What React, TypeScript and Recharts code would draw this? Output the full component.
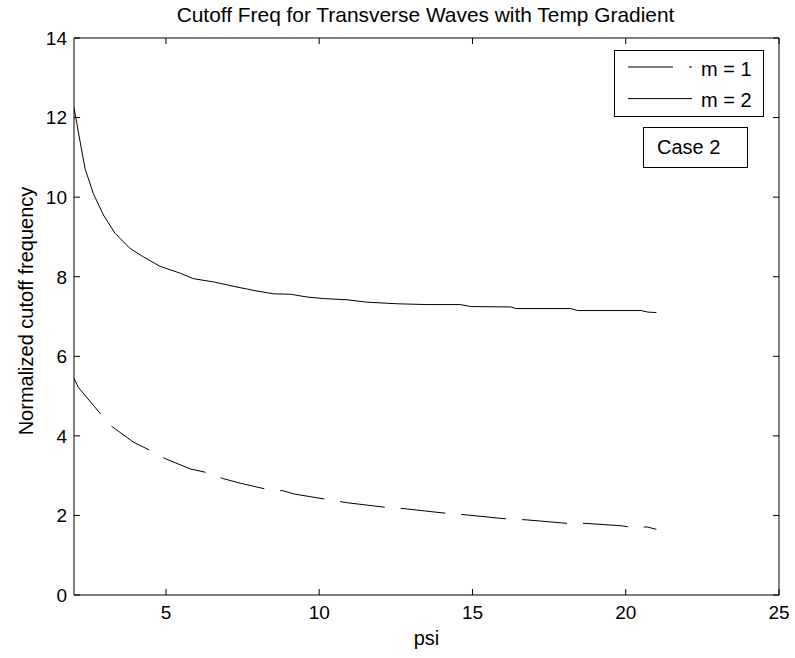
import React from 'react';
import { LineChart, Line, XAxis, YAxis, Legend, Label, ReferenceLine } from 'recharts';

const FONT = '"Liberation Sans", Arial, Helvetica, sans-serif';

const chartTitle = 'Cutoff Freq for Transverse Waves with Temp Gradient';
const xAxisTitle = 'psi';
const yAxisTitle = 'Normalized cutoff frequency';
const seriesNames = ['m = 1', 'm = 2'];
const annotationText = 'Case 2';

const xDomain = [2, 25];
const yDomain = [0, 14];
const xTicks = [5, 10, 15, 20, 25];
const yTicks = [0, 2, 4, 6, 8, 10, 12, 14];

// m = 1 (dashed)
const psiM1 = [2.0, 2.14, 2.87, 3.23, 3.94, 4.5, 4.97, 5.79, 6.37, 6.85, 7.42, 8.27, 8.82, 9.17, 9.72, 10.9, 12.2, 12.65, 14.07, 14.72, 16.14, 16.74, 18.1, 18.7, 19.85, 20.2, 20.7, 21.0];
const freqM1 = [5.45, 5.22, 4.55, 4.24, 3.84, 3.63, 3.43, 3.17, 3.07, 2.93, 2.81, 2.66, 2.62, 2.54, 2.47, 2.32, 2.2, 2.18, 2.06, 2.02, 1.91, 1.89, 1.8, 1.8, 1.74, 1.7, 1.71, 1.65];

// m = 2 (solid)
const psiM2 = [2.0, 2.2, 2.36, 2.63, 2.96, 3.34, 3.83, 4.26, 4.81, 5.46, 5.9, 6.55, 7.32, 7.97, 8.51, 9.06, 9.6, 10.15, 10.91, 11.56, 12.54, 13.52, 14.6, 14.94, 16.25, 16.41, 18.2, 18.43, 20.5, 20.72, 21.0];
const freqM2 = [12.25, 11.39, 10.72, 10.09, 9.55, 9.09, 8.71, 8.5, 8.26, 8.09, 7.95, 7.87, 7.74, 7.64, 7.57, 7.56, 7.49, 7.45, 7.42, 7.36, 7.32, 7.3, 7.3, 7.25, 7.24, 7.2, 7.2, 7.15, 7.15, 7.11, 7.1];

const dataM1 = psiM1.map((p, i) => ({ psi: p, f: freqM1[i] }));
const dataM2 = psiM2.map((p, i) => ({ psi: p, f: freqM2[i] }));

const W = 795;
const H = 658;
const M_TOP = 38;
const M_RIGHT = 16;
const Y_W = 74;
const X_H = 63;
const P_LEFT = Y_W;
const P_RIGHT = W - M_RIGHT;
const P_TOP = M_TOP;
const P_BOTTOM = H - X_H;
const TICK_FS = 19;
const LABEL_FS = 20;
const TICK_LEN = 6;
const DASH = '45 16';

const BottomTick = (props: any) => {
  const { x, payload } = props;
  return (
    <g>
      <line x1={x} x2={x} y1={P_BOTTOM} y2={P_BOTTOM - TICK_LEN} stroke="#000" strokeWidth={1} />
      <line x1={x} x2={x} y1={P_TOP} y2={P_TOP + TICK_LEN} stroke="#000" strokeWidth={1} />
      <text x={x} y={P_BOTTOM + 24} textAnchor="middle" fontSize={TICK_FS} fontFamily={FONT} fill="#000">
        {payload.value}
      </text>
    </g>
  );
};

const LeftTick = (props: any) => {
  const { y, payload } = props;
  return (
    <g>
      <line x1={P_LEFT} x2={P_LEFT + TICK_LEN} y1={y} y2={y} stroke="#000" strokeWidth={1} />
      <line x1={P_RIGHT} x2={P_RIGHT - TICK_LEN} y1={y} y2={y} stroke="#000" strokeWidth={1} />
      <text x={P_LEFT - 7} y={y + 6.8} textAnchor="end" fontSize={TICK_FS} fontFamily={FONT} fill="#000">
        {payload.value}
      </text>
    </g>
  );
};

const LegendBox = (props: any) => {
  const payload = props.payload || [];
  const items = seriesNames.map((name, i) => {
    const entry = payload.find((p: any) => p.value === name);
    return { name, dash: i === 0 ? DASH : undefined, color: entry ? entry.color : '#000' };
  });
  return (
    <div style={{ width: 150, height: 67, boxSizing: 'border-box', border: '1px solid #000', background: '#fff' }}>
      <svg width={148} height={65} style={{ display: 'block' }}>
        {items.map((it, i) => {
          const ly = 16 + i * 31.6;
          return (
            <g key={it.name}>
              <line x1={13} x2={77} y1={ly} y2={ly} stroke={it.color} strokeWidth={1} strokeDasharray={it.dash} />
              <text x={86} y={ly + 8.6} fontSize={LABEL_FS} fontFamily={FONT} fill="#000">
                {it.name}
              </text>
            </g>
          );
        })}
      </svg>
    </div>
  );
};

export default function App() {
  return (
    <div style={{ position: 'absolute', left: 0, top: 0, width: W, height: H, background: '#fff' }}>
      <LineChart width={W} height={H} margin={{ top: M_TOP, right: M_RIGHT, bottom: 0, left: 0 }}>
        <XAxis
          type="number"
          dataKey="psi"
          domain={xDomain}
          ticks={xTicks}
          allowDataOverflow
          height={X_H}
          axisLine={{ stroke: '#000', strokeWidth: 1 }}
          tickLine={false}
          tick={<BottomTick />}
          interval={0}
        >
          <Label
            content={() => (
              <g>
                <text x={(P_LEFT + P_RIGHT) / 2} y={645} textAnchor="middle" fontSize={LABEL_FS} fontFamily={FONT} fill="#000">
                  {xAxisTitle}
                </text>
                <text x={(P_LEFT + P_RIGHT) / 2 - 1} y={21.5} textAnchor="middle" fontSize={20.9} fontFamily={FONT} fill="#000">
                  {chartTitle}
                </text>
              </g>
            )}
          />
        </XAxis>
        <YAxis
          type="number"
          domain={yDomain}
          ticks={yTicks}
          allowDataOverflow
          width={Y_W}
          axisLine={{ stroke: '#000', strokeWidth: 1 }}
          tickLine={false}
          tick={<LeftTick />}
          interval={0}
        >
          <Label
            content={() => (
              <text
                x={33}
                y={311}
                transform="rotate(-90 33 311)"
                textAnchor="middle"
                fontSize={LABEL_FS}
                fontFamily={FONT}
                fill="#000"
              >
                {yAxisTitle}
              </text>
            )}
          />
        </YAxis>
        <ReferenceLine y={yDomain[1]} stroke="#000" strokeWidth={1} ifOverflow="visible" />
        <ReferenceLine x={xDomain[1]} stroke="#000" strokeWidth={1} ifOverflow="visible" />
        <Line
          data={dataM1}
          dataKey="f"
          name={seriesNames[0]}
          type="linear"
          stroke="#000"
          strokeWidth={1}
          strokeDasharray={DASH}
          dot={false}
          activeDot={false}
          isAnimationActive={false}
        />
        <Line
          data={dataM2}
          dataKey="f"
          name={seriesNames[1]}
          type="linear"
          stroke="#000"
          strokeWidth={1}
          dot={false}
          activeDot={false}
          isAnimationActive={false}
        />
        <Legend
          layout="horizontal"
          verticalAlign="middle"
          align="center"
          content={<LegendBox />}
          wrapperStyle={{ position: 'absolute', left: 614, top: 50, width: 150, height: 67, margin: 0, padding: 0 }}
        />
      </LineChart>
      <div
        style={{
          position: 'absolute',
          left: 643,
          top: 127,
          width: 105,
          height: 41,
          boxSizing: 'border-box',
          border: '1px solid #000',
          background: '#fff',
          fontFamily: FONT,
          fontSize: LABEL_FS,
          lineHeight: '39px',
          paddingLeft: 13,
          color: '#000',
        }}
      >
        {annotationText}
      </div>
    </div>
  );
}
